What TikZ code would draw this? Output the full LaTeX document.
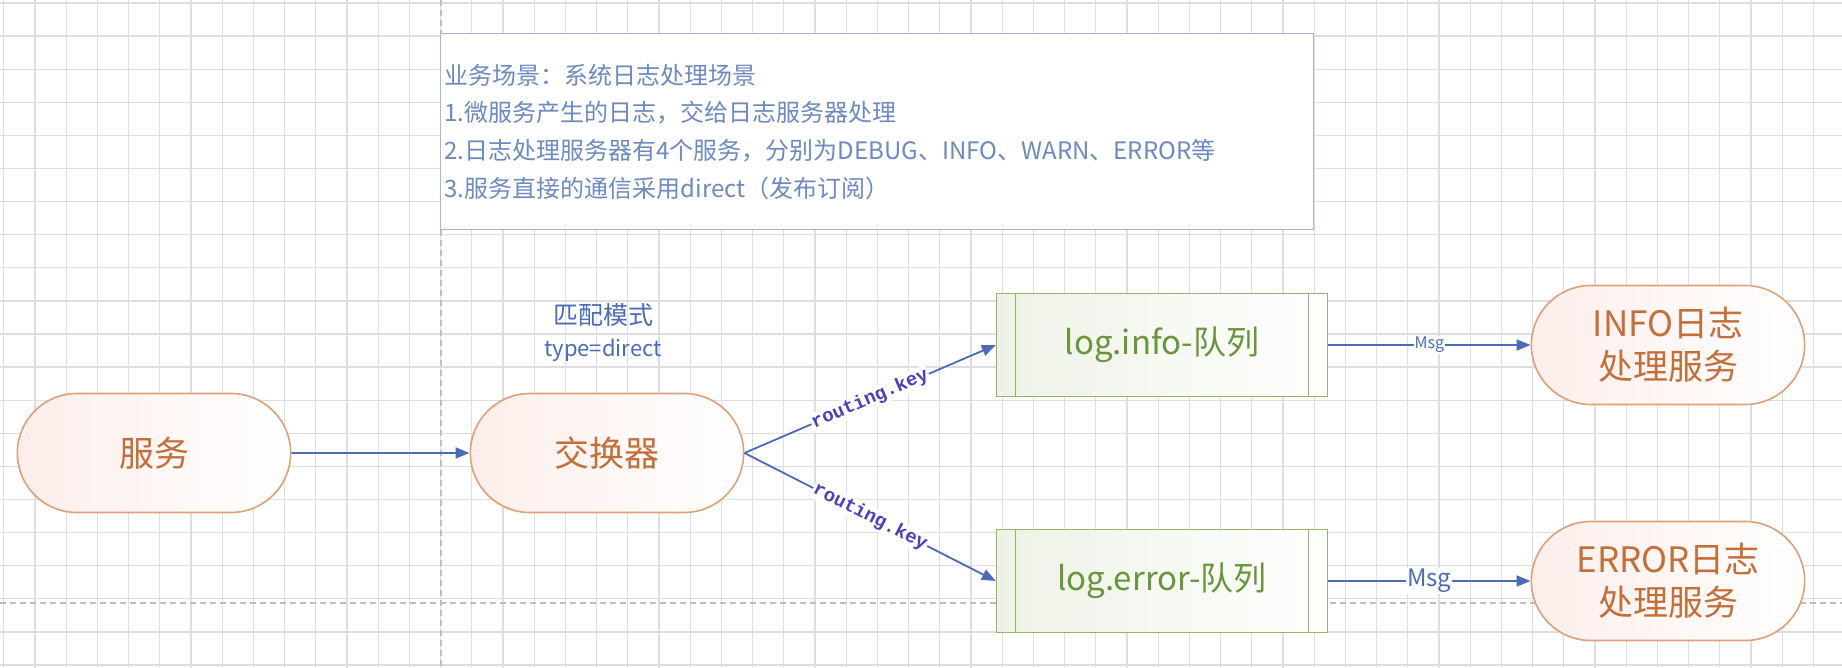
\documentclass[tikz,border=0pt]{standalone}
\usepackage{fontspec}
\setmainfont{Noto Sans CJK SC}
\newfontfamily\keyfont{Liberation Mono}
\usetikzlibrary{arrows.meta,shapes.misc}
\definecolor{gridgray}{RGB}{222,222,222}
\definecolor{guidegray}{RGB}{190,190,190}
\definecolor{flowblue}{RGB}{74,108,184}
\definecolor{keyblue}{RGB}{76,62,190}
\definecolor{pillline}{RGB}{222,160,120}
\definecolor{pillpink}{RGB}{252,238,234}
\definecolor{pilltext}{RGB}{196,110,56}
\definecolor{queueline}{RGB}{150,178,106}
\definecolor{queuefill}{RGB}{238,242,230}
\definecolor{queuetext}{RGB}{104,150,58}
\definecolor{noteline}{RGB}{168,182,214}
\definecolor{notetext}{RGB}{108,138,192}

\begin{document}
\begin{tikzpicture}[x=1pt, y=-1pt,
  gridline/.style={draw=gridgray, line width=1.3pt},
  guide/.style={draw=guidegray, line width=1.2pt, dash pattern=on 6pt off 4pt},
  pill/.style={rounded rectangle, draw=pillline, line width=1.6pt, left color=pillpink, right color=white,
    text=pilltext, align=center, minimum width=280pt, minimum height=119pt, font=\fontsize{35}{43}\selectfont},
  queue/.style={rectangle, draw=queueline, line width=1.3pt, left color=queuefill, right color=white!96!queuefill,
    text=queuetext, minimum width=331pt, minimum height=103pt, font=\fontsize{33}{40}\selectfont,
    path picture={\draw[queueline, line width=1.3pt]
      ([xshift=19pt]path picture bounding box.north west) -- ([xshift=19pt]path picture bounding box.south west)
      ([xshift=-19pt]path picture bounding box.north east) -- ([xshift=-19pt]path picture bounding box.south east);}},
  note/.style={draw=noteline, line width=1.3pt, fill=white, text=notetext, align=left, text width=865pt,
    minimum height=196pt, inner xsep=4pt, font=\fontsize{24}{37.7}\selectfont},
  arr/.style={-{Triangle[length=14pt,width=11pt]}, line width=1.8pt, draw=flowblue},
  keylab/.style={font=\keyfont\bfseries\fontsize{19}{19}\selectfont, text=keyblue, fill=white, inner sep=1pt, sloped},
  msglab/.style={text=flowblue, fill=white, inner sep=1pt}]
% background
\fill[white] (0,0) rectangle (1842,668);
\useasboundingbox (0,0) rectangle (1842,668);
\foreach \gx in {0,...,58} \draw[gridline] ({3.8+31.2*\gx},0) -- ({3.8+31.2*\gx},668);
\foreach \gy in {0,...,20} \draw[gridline] (0,{3+33.1*\gy}) -- (1842,{3+33.1*\gy});
\draw[guide] (441,0) -- (441,668);
\draw[guide] (0,603) -- (1842,603);
% scene
\node[note, anchor=north west] (scene) at (440,33) {业务场景：系统日志处理场景\\1.微服务产生的日志，交给日志服务器处理\\2.日志处理服务器有4个服务，分别为DEBUG、INFO、WARN、ERROR等\\3.服务直接的通信采用direct（发布订阅）};
% exchange
\node[pill] (svc)  at (154,453) {服务};
\node[pill] (xchg) at (607,453) {交换器};
\node[text=flowblue, font=\fontsize{25}{25}\selectfont] (mode) at (603,315) {匹配模式};
\node[text=flowblue, font=\fontsize{22}{22}\selectfont] (mtype) at (603,350) {type=direct};
% queues
\node[queue] (qinfo)  at (1162,345) {log.info-队列};
\node[queue] (qerror) at (1162,581) {log.error-队列};
% consumers
\node[pill] (cinfo)  at (1668,345) {INFO日志\\处理服务};
\node[pill] (cerror) at (1668,581) {ERROR日志\\处理服务};
% edges
\draw[arr] (svc) -- (xchg);
\draw[arr] (xchg.east) -- node[keylab]{routing.key} (qinfo.west);
\draw[arr] (xchg.east) -- node[keylab]{routing.key} (qerror.west);
\draw[arr] (qinfo) -- node[msglab, font=\fontsize{16}{16}\selectfont]{Msg} (cinfo);
\draw[arr] (qerror) -- node[msglab, font=\fontsize{24}{24}\selectfont]{Msg} (cerror);
\end{tikzpicture}
\end{document}
